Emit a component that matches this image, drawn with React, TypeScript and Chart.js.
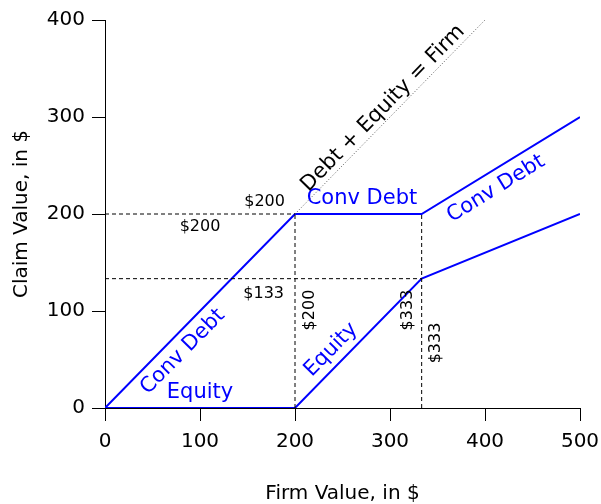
import React, { useEffect, useRef } from "react";
import { Chart, registerables } from "chart.js";

Chart.register(...registerables);

// ---- Data ----
const firmValues = [0, 200, 333.33, 500];
const convDebtValues = [0, 200, 200, 300];
const equityValues = [0, 0, 133.33, 200];

const firmDiagonalX = [200, 400];
const firmDiagonalY = [200, 400];

// dashed guide segments: [x1, y1, x2, y2]
const guideSegments: number[][] = [
  [0, 200, 200, 200],
  [200, 0, 200, 200],
  [0, 133.33, 333.33, 133.33],
  [333.33, 0, 333.33, 200],
];

const xTicks = [0, 100, 200, 300, 400, 500];
const yTicks = [0, 100, 200, 300, 400];

type Label = { text: string; x: number; y: number; rot: number; color: string; size: number };
const labels: Label[] = [
  { text: "$200", x: 168, y: 213, rot: 0, color: "#000", size: 16 },
  { text: "$200", x: 100, y: 187, rot: 0, color: "#000", size: 16 },
  { text: "$133", x: 167, y: 117.5, rot: 0, color: "#000", size: 16 },
  { text: "$200", x: 216, y: 101, rot: -90, color: "#000", size: 16 },
  { text: "$333", x: 319, y: 101, rot: -90, color: "#000", size: 16 },
  { text: "$333", x: 348, y: 67, rot: -90, color: "#000", size: 16 },
  { text: "Conv Debt", x: 82, y: 58, rot: -45.6, color: "#0000ff", size: 21 },
  { text: "Equity", x: 100, y: 15.5, rot: 0, color: "#0000ff", size: 21 },
  { text: "Conv Debt", x: 270.5, y: 215.5, rot: 0, color: "#0000ff", size: 21 },
  { text: "Equity", x: 238, y: 60, rot: -45.6, color: "#0000ff", size: 21 },
  { text: "Conv Debt", x: 411.6, y: 226, rot: -31.5, color: "#0000ff", size: 21 },
  { text: "Debt + Equity = Firm", x: 292.6, y: 309, rot: -45.6, color: "#000", size: 21 },
];

const FONT = "'DejaVu Sans', sans-serif";

const labelPlugin = {
  id: "textLabels",
  afterDatasetsDraw(chart: any) {
    const { ctx, scales } = chart;
    for (const l of labels) {
      const px = scales.x.getPixelForValue(l.x);
      const py = scales.y.getPixelForValue(l.y);
      ctx.save();
      ctx.translate(px, py);
      ctx.rotate((l.rot * Math.PI) / 180);
      ctx.font = `${l.size}px ${FONT}`;
      ctx.fillStyle = l.color;
      ctx.textAlign = "center";
      ctx.textBaseline = "middle";
      ctx.fillText(l.text, 0, 0);
      ctx.restore();
    }
  },
};

export default function App() {
  const ref = useRef<HTMLCanvasElement | null>(null);

  useEffect(() => {
    if (!ref.current) return;
    const guideDatasets = guideSegments.map((s) => ({
      data: [
        { x: s[0], y: s[1] },
        { x: s[2], y: s[3] },
      ],
      showLine: true,
      borderColor: "#000",
      borderWidth: 1,
      borderDash: [4, 3],
      pointRadius: 0,
      fill: false,
    }));
    const chart = new Chart(ref.current, {
      type: "scatter",
      data: {
        datasets: [
          ...guideDatasets,
          {
            data: firmDiagonalX.map((x, i) => ({ x, y: firmDiagonalY[i] })),
            showLine: true,
            borderColor: "#555",
            borderWidth: 1,
            borderDash: [1, 2],
            pointRadius: 0,
          },
          {
            label: "Conv Debt",
            data: firmValues.map((x, i) => ({ x, y: convDebtValues[i] })),
            showLine: true,
            borderColor: "#0000ff",
            borderWidth: 2,
            pointRadius: 0,
          },
          {
            label: "Equity",
            data: firmValues.map((x, i) => ({ x, y: equityValues[i] })),
            showLine: true,
            borderColor: "#0000ff",
            borderWidth: 2,
            pointRadius: 0,
          },
        ],
      },
      options: {
        animation: false,
        responsive: false,
        maintainAspectRatio: false,
        layout: { padding: { top: 20, right: 21, left: 0, bottom: 0 } },
        plugins: { legend: { display: false }, tooltip: { enabled: false } },
        scales: {
          x: {
            type: "linear",
            min: 0,
            max: 500,
            afterBuildTicks: (s: any) => {
              s.ticks = xTicks.map((v) => ({ value: v }));
            },
            afterFit: (s: any) => {
              s.height = 96;
              s.paddingLeft = 0;
              s.paddingRight = 0;
            },
            ticks: { color: "#000", font: { family: FONT, size: 20 }, padding: 9, maxRotation: 0 },
            grid: { drawOnChartArea: false, drawTicks: true, tickLength: 13, color: "#000" },
            border: { display: true, color: "#000", width: 1 },
            title: {
              display: true,
              text: "Firm Value, in $",
              color: "#000",
              font: { family: FONT, size: 20, lineHeight: 1 },
              padding: { top: 1, bottom: 0 },
            },
          },
          y: {
            type: "linear",
            min: 0,
            max: 400,
            afterBuildTicks: (s: any) => {
              s.ticks = yTicks.map((v) => ({ value: v }));
            },
            afterFit: (s: any) => {
              s.width = 105;
              s.paddingTop = 0;
              s.paddingBottom = 0;
            },
            ticks: { color: "#000", font: { family: FONT, size: 20 }, padding: 7 },
            grid: { drawOnChartArea: false, drawTicks: true, tickLength: 13, color: "#000" },
            border: { display: true, color: "#000", width: 1 },
            title: {
              display: true,
              text: "Claim Value, in $",
              color: "#000",
              font: { family: FONT, size: 20, lineHeight: 1 },
              padding: { top: 12, bottom: 0 },
            },
          },
        },
      },
      plugins: [labelPlugin],
    } as any);
    return () => chart.destroy();
  }, []);

  return (
    <div style={{ position: "fixed", left: 0, top: 0, width: 601, height: 504, background: "#fff" }}>
      <canvas ref={ref} width={601} height={504} style={{ width: 601, height: 504 }} />
    </div>
  );
}
